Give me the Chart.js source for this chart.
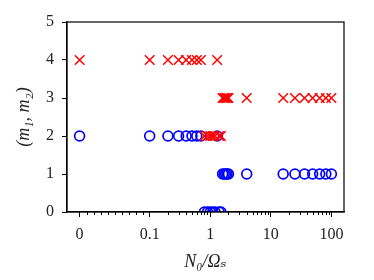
<!DOCTYPE html>
<html>
<head>
<meta charset="utf-8">
<script src="https://cdn.jsdelivr.net/npm/chart.js@4"></script>
<style>
  html, body { margin: 0; padding: 0; background: #fff; }
  #wrap { width: 374px; height: 280px; }
</style>
</head>
<body>
<div id="wrap"><canvas id="modeChart"></canvas></div>
<script>
// N0 / Omega_s values (x axis, symlog)
const nRatio = [0, 0.1, 0.2, 0.3, 0.4, 0.5, 0.6, 0.7, 0.8, 0.9, 1.0, 1.1, 1.2, 1.3, 1.4, 1.5,
                1.6, 1.7, 1.8, 1.9, 2.0, 4, 16, 25, 36, 49, 64, 81, 100];
// m1 (blue circles) and m2 (red crosses)
const m1 = [2, 2, 2, 2, 2, 2, 2, 2, 0, 0, 0, 0, 0, 2, 0, 0,
            1, 1, 1, 1, 1, 1, 1, 1, 1, 1, 1, 1, 1];
const m2 = [4, 4, 4, 4, 4, 4, 4, 4, 2, 2, 2, 2, 2, 4, 2, 2,
            3, 3, 3, 3, 3, 3, 3, 3, 3, 3, 3, 3, 3];
const xTickValues = [0, 0.1, 1, 10, 100];
const xTickLabels = ['0', '0.1', '1', '10', '100'];
const yTickValues = [0, 1, 2, 3, 4, 5];

// symlog transform: linear below 0.1, log above
const linThresh = 0.1;
const linWidth = 1.157;
function symlog(x) {
    if (x <= linThresh) return x / linThresh * linWidth;
    return linWidth + Math.log10(x / linThresh);
}

// minor tick positions
const minorTicks = [];
for (let i = 1; i < 10; i++) minorTicks.push(i * 0.01);
[0.1, 1, 10].forEach(d => { for (let i = 2; i < 10; i++) minorTicks.push(d * i); });

const frameAndMinor = {
    id: 'frameAndMinor',
    afterDraw(chart) {
        const ctx = chart.ctx;
        const a = chart.chartArea;
        const xs = chart.scales.x;
        ctx.save();
        ctx.strokeStyle = '#000';
        ctx.lineWidth = 1;
        ctx.beginPath();
        minorTicks.forEach(v => {
            const px = Math.round(xs.getPixelForValue(symlog(v))) + 0.5;
            ctx.moveTo(px, a.bottom);
            ctx.lineTo(px, a.bottom + 3);
        });
        ctx.stroke();
        ctx.lineWidth = 1.2;
        ctx.strokeRect(a.left, a.top, a.right - a.left, a.bottom - a.top);
        ctx.restore();
    }
};

const font = { family: '"Liberation Serif", "DejaVu Serif", serif', size: 16 };

const ctx = document.getElementById('modeChart').getContext('2d');
new Chart(ctx, {
    type: 'scatter',
    data: {
        datasets: [
            {
                label: 'm2',
                data: nRatio.map((x, i) => ({ x: symlog(x), y: m2[i] })),
                pointStyle: 'crossRot',
                pointRadius: 6.8,
                borderColor: '#ff0000',
                backgroundColor: '#ff0000',
                borderWidth: 1.5,
                clip: 0,
            },
            {
                label: 'm1',
                data: nRatio.map((x, i) => ({ x: symlog(x), y: m1[i] })),
                pointStyle: 'circle',
                pointRadius: 4.9,
                borderColor: '#0000ff',
                backgroundColor: 'rgba(0,0,0,0)',
                borderWidth: 1.7,
                clip: 0,
            },
        ]
    },
    options: {
        responsive: true,
        maintainAspectRatio: false,
        animation: false,
        layout: { padding: { left: 0, right: 30, top: 22, bottom: 0 } },
        plugins: { legend: { display: false }, tooltip: { enabled: false } },
        scales: {
            x: {
                type: 'linear',
                min: symlog(0) - 0.208,
                max: symlog(100) + 0.208,
                afterBuildTicks: scale => {
                    scale.ticks = xTickValues.map(v => ({ value: symlog(v) }));
                },
                afterFit: scale => { scale.height = 68; },
                ticks: {
                    color: '#222',
                    font: font,
                    padding: 8,
                    maxRotation: 0,
                    callback: (val, i) => xTickLabels[i],
                },
                grid: { drawOnChartArea: false, tickLength: 5, color: '#000' },
                border: { color: '#000', width: 1.2 },
                title: {
                    display: true,
                    text: 'N₀/Ωₛ',
                    color: '#222',
                    font: { family: font.family, size: 18, style: 'italic' },
                    padding: { top: 2, bottom: 7 },
                },
            },
            y: {
                type: 'linear',
                min: 0,
                max: 5,
                afterBuildTicks: scale => {
                    scale.ticks = yTickValues.map(v => ({ value: v }));
                },
                afterFit: scale => { scale.width = 67; },
                ticks: { color: '#222', font: font, padding: 8 },
                grid: { drawOnChartArea: false, tickLength: 5, color: '#000' },
                border: { color: '#000', width: 1.2 },
                title: {
                    display: true,
                    text: '(m₁, m₂)',
                    color: '#222',
                    font: { family: font.family, size: 18, style: 'italic' },
                    padding: { top: 13, bottom: 0 },
                },
            }
        }
    },
    plugins: [frameAndMinor]
});
</script>
</body>
</html>
